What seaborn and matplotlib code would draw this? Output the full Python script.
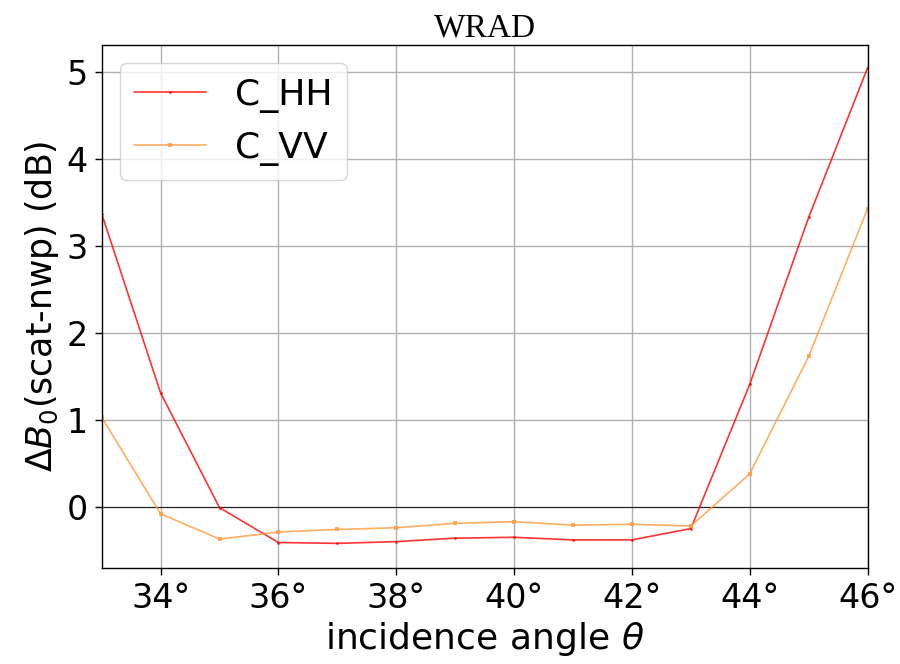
import matplotlib
matplotlib.use("Agg")
import matplotlib.pyplot as plt
import seaborn as sns
import pandas as pd

angles = [33, 34, 35, 36, 37, 38, 39, 40, 41, 42, 43, 44, 45, 46]
c_hh = [3.37, 1.31, -0.01, -0.41, -0.42, -0.40, -0.36, -0.35, -0.38, -0.38, -0.25, 1.41, 3.33, 5.05]
c_vv = [1.03, -0.08, -0.37, -0.29, -0.26, -0.24, -0.19, -0.17, -0.21, -0.20, -0.22, 0.38, 1.73, 3.43]
series_names = ["C_HH", "C_VV"]
xticks = [34, 36, 38, 40, 42, 44, 46]
yticks = [0, 1, 2, 3, 4, 5]

sns.set_style("ticks")
plt.rcParams['font.family'] = ['DejaVu Sans']
plt.rcParams['text.color'] = 'black'
plt.rcParams['axes.labelcolor'] = 'black'
plt.rcParams['xtick.color'] = 'black'
plt.rcParams['ytick.color'] = 'black'

df = pd.DataFrame({
    "angle": angles * 2,
    "value": c_hh + c_vv,
    "series": [series_names[0]] * len(angles) + [series_names[1]] * len(angles),
})

fig = plt.figure(figsize=(9, 6.64), dpi=100)
ax = fig.add_axes([0.113, 0.145, 0.851, 0.787])

sns.lineplot(data=df[df.series == "C_HH"], x="angle", y="value", ax=ax,
             color="red", alpha=0.8, lw=1.2, marker=".", markersize=4,
             markeredgewidth=0, label="C_HH")
sns.lineplot(data=df[df.series == "C_VV"], x="angle", y="value", ax=ax,
             color="#ff9a3c", alpha=0.8, lw=1.2, marker="s", markersize=3.5,
             markeredgewidth=0, label="C_VV")

ax.axhline(0, color="black", lw=0.8, alpha=0.8, zorder=1)
ax.set_xlim(33, 46)
ax.set_ylim(-0.70, 5.31)
ax.set_xticks(xticks)
ax.set_xticklabels([f"{t}°" for t in xticks])
ax.set_yticks(yticks)
ax.tick_params(axis="both", labelsize=24, direction="out", length=5, width=1,
               bottom=True, left=True, pad=5)
ax.grid(True, color="#b0b0b0", lw=1)
for s in ax.spines.values():
    s.set_color("black")
    s.set_linewidth(1)
ax.set_xlabel(r"incidence angle $\theta$", fontsize=26, labelpad=4)
ax.set_ylabel(r"$\Delta B_0$(scat-nwp) (dB)", fontsize=25, labelpad=4)
ax.set_title("WRAD", fontsize=24, family="Liberation Serif", pad=6)
ax.legend(loc="upper left", fontsize=26, framealpha=0.8)

fig.savefig("out.png", dpi=100)
